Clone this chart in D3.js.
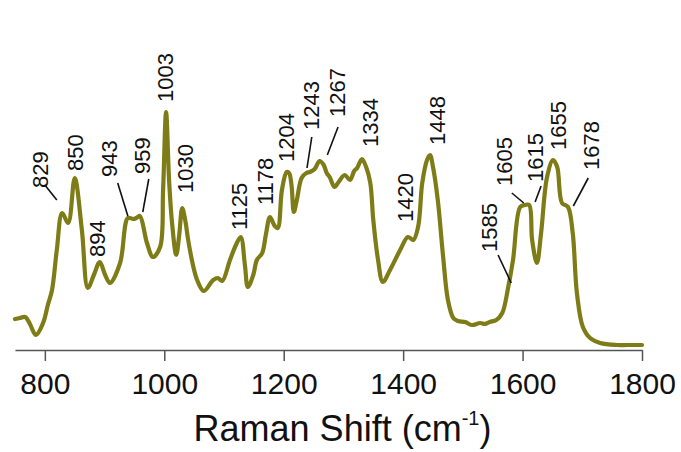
<!DOCTYPE html>
<html>
<head>
<meta charset="utf-8">
<script src="https://cdn.jsdelivr.net/npm/d3@7"></script>
<style>
  body { margin: 0; background: #ffffff; }
  svg { display: block; font-family: 'Liberation Sans', Arial, sans-serif; }
</style>
</head>
<body>
<div id="container"></div>
<script>
// Raman spectrum with labelled bands (intensity in a.u.)

//### DATA ###
const wavenumbers = [
  750, 758, 767, 775, 785, 797, 805, 812, 820, 829,
  839, 850, 862, 872, 882, 892, 901, 909, 926, 939,
  948, 953, 959, 971, 981, 993, 998, 1003, 1008, 1013,
  1020, 1025, 1030, 1035, 1040, 1048, 1055, 1066, 1082, 1090,
  1097, 1110, 1120, 1128, 1135, 1140, 1149, 1155, 1164, 1170,
  1177, 1185, 1190, 1197, 1205, 1209, 1213, 1217, 1222, 1230,
  1238, 1244, 1252, 1260, 1267, 1272, 1277, 1285, 1292, 1302,
  1311, 1318, 1323, 1331, 1338, 1345, 1350, 1358, 1366, 1378,
  1395, 1408, 1417, 1425, 1432, 1440, 1445, 1450, 1458, 1467,
  1475, 1484, 1492, 1504, 1515, 1529, 1537, 1545, 1556, 1566,
  1576, 1584, 1596, 1604, 1611, 1616, 1624, 1631, 1641, 1651,
  1658, 1666, 1676, 1684, 1691, 1701, 1713, 1730, 1758, 1775,
  1800
];
const intensities = [
  31, 32, 33, 26, 15, 27, 45, 60, 100, 137,
  127, 172, 120, 62, 75, 88, 75, 67, 87, 132,
  131, 132, 134, 107, 93, 103, 160, 238, 170, 127,
  95, 115, 142, 130, 110, 85, 70, 59, 70, 72,
  69, 90, 105, 113, 85, 63, 75, 90, 97, 115,
  133, 124, 122, 160, 178, 177, 165, 138, 150, 172,
  177, 178, 181, 189, 185, 177, 173, 163, 168, 175,
  170, 179, 182, 191, 183, 167, 130, 90, 68, 80,
  100, 113, 110, 123, 167, 190, 195, 183, 150, 93,
  50, 32, 29, 28, 25, 27, 26, 28, 30, 37,
  63, 90, 143, 145, 145, 110, 87, 117, 173, 190,
  183, 147, 143, 117, 57, 23, 12, 7, 5, 5,
  5
];

//>>> Band labels
const bandLabels = [ '829', '850', '894', '943', '959', '1003', '1030', '1125', '1178', '1204',
  '1243', '1267', '1334', '1420', '1448', '1585', '1605', '1615', '1655', '1678' ];
//--- Where each label sits (wavenumber, intensity of the text start)
const labelWave = [ 792, 850, 887, 907, 962, 1002, 1035, 1125, 1168, 1204,
  1246, 1289, 1345, 1403, 1457, 1544, 1569, 1621, 1659, 1715 ];
const labelLevel = [ 162, 179, 93, 173, 176, 248, 157, 120, 145, 188,
  220, 233, 203, 128, 205, 98, 164, 168, 200, 180 ];
//--- Leader lines: [label, from wavenumber, from intensity, to wavenumber, to intensity]
const leaders = [
  [ '829', 800, 165, 820, 150 ],
  [ '943', 922, 167, 939, 134 ],
  [ '959', 974, 171, 964, 138 ],
  [ '1243', 1247, 213, 1239, 182 ],
  [ '1267', 1291, 223, 1273, 195 ],
  [ '1585', 1559, 95, 1581, 67 ],
  [ '1605', 1582, 157, 1602, 147 ],
  [ '1615', 1631, 164, 1621, 148 ],
  [ '1678', 1710, 172, 1685, 144 ]
];

const xTicks = [ 800, 1000, 1200, 1400, 1600, 1800 ];


//### CHART ###
const W = 681, H = 452;
const lineColor = '#7e7c16';

const svg = d3.select( '#container' )
  .append( 'svg' )
  .attr( 'width', W )
  .attr( 'height', H );

//_____ SCALES _____
const xScale = d3.scaleLinear()
  .domain( [ 750, 1800 ] )
  .range( [ 15, 642 ] );

const yScale = d3.scaleLinear()
  .domain( [ 0, 300 ] )
  .range( [ 350, 50 ] );

//_____ AXIS _____
const xAxis = d3.axisBottom( xScale )
  .tickValues( xTicks )
  .tickFormat( d3.format( 'd' ) )
  .tickSizeInner( 11 )
  .tickSizeOuter( 0 )
  .tickPadding( 12 );

const axisG = svg.append( 'g' )
  .attr( 'transform', `translate(0, ${yScale( 0 )})` )
  .call( xAxis );

axisG.select( '.domain' )
  .attr( 'stroke', '#555' )
  .attr( 'stroke-width', 1.5 );
axisG.selectAll( '.tick line' )
  .attr( 'stroke', '#555' )
  .attr( 'stroke-width', 1.5 );
axisG.selectAll( '.tick text' )
  .attr( 'fill', '#111' )
  .style( 'font-size', '30px' )
  .style( 'font-family', "'Liberation Sans', Arial, sans-serif" );

//>>> Axis title
const title = svg.append( 'text' )
  .attr( 'x', W / 2 + 2 )
  .attr( 'y', 441 )
  .attr( 'text-anchor', 'middle' )
  .attr( 'fill', '#111' )
  .style( 'font-size', '36px' );
title.append( 'tspan' ).text( 'Raman Shift (cm' );
title.append( 'tspan' )
  .attr( 'dy', -16 )
  .style( 'font-size', '20px' )
  .text( '-1' );
title.append( 'tspan' )
  .attr( 'dy', 16 )
  .text( ')' );

//_____ SPECTRUM _____
const spectrum = wavenumbers.map( ( w, i ) => ( { w, v: intensities[ i ] } ) );

const line = d3.line()
  .x( d => xScale( d.w ) )
  .y( d => yScale( d.v ) )
  .curve( d3.curveCatmullRom.alpha( 0.5 ) );

svg.append( 'path' )
  .datum( spectrum )
  .attr( 'fill', 'none' )
  .attr( 'stroke', lineColor )
  .attr( 'stroke-width', 4.2 )
  .attr( 'stroke-linejoin', 'round' )
  .attr( 'stroke-linecap', 'round' )
  .attr( 'd', line );

//_____ LEADER LINES _____
svg.selectAll( 'line.leader' )
  .data( leaders )
  .enter()
  .append( 'line' )
  .attr( 'class', 'leader' )
  .attr( 'x1', d => xScale( d[ 1 ] ) )
  .attr( 'y1', d => yScale( d[ 2 ] ) )
  .attr( 'x2', d => xScale( d[ 3 ] ) )
  .attr( 'y2', d => yScale( d[ 4 ] ) )
  .attr( 'stroke', '#111' )
  .attr( 'stroke-width', 1.6 );

//_____ BAND LABELS _____
svg.selectAll( 'text.band' )
  .data( bandLabels )
  .enter()
  .append( 'text' )
  .attr( 'class', 'band' )
  .attr( 'transform', ( d, i ) => `translate(${xScale( labelWave[ i ] )}, ${yScale( labelLevel[ i ] )}) rotate(-90)` )
  .attr( 'dy', '0.36em' )
  .attr( 'text-anchor', 'start' )
  .attr( 'fill', '#111' )
  .style( 'font-size', '22px' )
  .text( d => d );
</script>
</body>
</html>
